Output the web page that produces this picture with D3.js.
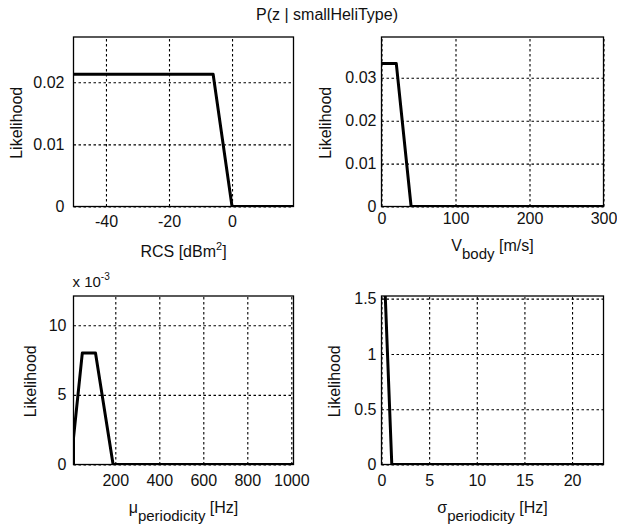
<!DOCTYPE html>
<html>
<head>
<meta charset="utf-8">
<script src="https://cdn.jsdelivr.net/npm/d3@7"></script>
<style>
  body { margin: 0; background: #fff; }
  svg { font-family: "Liberation Sans", Arial, sans-serif; }
  .tick text { fill: #111; }
</style>
</head>
<body>
<div id="chart"></div>
<script>
const titleText = "P(z | smallHeliType)";

// RCS panel
const rcsX = [-50.3, -6, 0, 19.5];
const rcsY = [0.0213, 0.0213, 0, 0];
const rcsXTicks = [-40, -20, 0];
const rcsYTicks = [0, 0.01, 0.02];
const rcsYLabels = ["0", "0.01", "0.02"];

// body velocity panel
const vbodyX = [0, 20, 40, 300];
const vbodyY = [0.0333, 0.0333, 0, 0];
const vbodyXTicks = [0, 100, 200, 300];
const vbodyYTicks = [0, 0.01, 0.02, 0.03];
const vbodyYLabels = ["0", "0.01", "0.02", "0.03"];

// mean periodicity panel
const muX = [10, 10, 50, 110, 190, 1010];
const muY = [0, 0.0019, 0.008, 0.008, 0, 0];
const muXTicks = [200, 400, 600, 800, 1000];
const muYTicks = [0, 0.005, 0.01];
const muYLabels = ["0", "5", "10"];

// std periodicity panel
const sigmaX = [0.36, 1.08, 23.3];
const sigmaY = [1.6, 0, 0];
const sigmaXTicks = [0, 5, 10, 15, 20];
const sigmaYTicks = [0, 0.5, 1, 1.5];
const sigmaYLabels = ["0", "0.5", "1", "1.5"];

const W = 617, H = 524;
const cols = [[73.5, 293.5], [381.5, 603.5]];
const rows = [[37, 206.5], [296, 464.5]];

const panels = [
  { xs: rcsX, ys: rcsY, xd: [-50.3, 19.5], yd: [0, 0.0273], xt: rcsXTicks, yt: rcsYTicks, yl: rcsYLabels,
    col: 0, row: 0, pad: 9, xpad: 9.5, ylabX: 16.5, xlabY: 50, xlab: ["RCS [dBm", "2", "]"], kind: "sup" },
  { xs: vbodyX, ys: vbodyY, xd: [0, 300], yd: [0, 0.0395], xt: vbodyXTicks, yt: vbodyYTicks, yl: vbodyYLabels,
    col: 1, row: 0, pad: 5, xpad: 6.5, ylabX: 325, xlabY: 44.5, xlab: ["V", "body", " [m/s]"], kind: "sub" },
  { xs: muX, ys: muY, xd: [10, 1010], yd: [0, 0.0121], xt: muXTicks, yt: muYTicks, yl: muYLabels,
    col: 0, row: 1, pad: 7, xpad: 10.5, ylabX: 30, xlabY: 48, xlab: ["\u03bc", "periodicity", " [Hz]"], kind: "sub", exp: true },
  { xs: sigmaX, ys: sigmaY, xd: [0, 23.3], yd: [0, 1.524], xt: sigmaXTicks, yt: sigmaYTicks, yl: sigmaYLabels,
    col: 1, row: 1, pad: 5, xpad: 10.5, ylabX: 334, xlabY: 48, xlab: ["\u03c3", "periodicity", " [Hz]"], kind: "sub" }
];

const svg = d3.select("#chart").append("svg")
  .attr("width", W)
  .attr("height", H);

svg.append("text")
  .attr("x", 327)
  .attr("y", 20)
  .attr("text-anchor", "middle")
  .attr("font-size", "16px")
  .attr("fill", "#111")
  .text(titleText);

panels.forEach(function(p, i) {
  const [x0, x1] = cols[p.col];
  const [y0, y1] = rows[p.row];
  const x = d3.scaleLinear().domain(p.xd).range([x0, x1]);
  const y = d3.scaleLinear().domain(p.yd).range([y1, y0]);
  const g = svg.append("g").attr("class", "panel");

  // grid + tick labels
  const xAxis = g.append("g")
    .attr("transform", `translate(0,${y1})`)
    .call(d3.axisBottom(x).tickValues(p.xt).tickSize(-(y1 - y0)).tickPadding(p.xpad)
      .tickFormat(d => String(d)));
  const yAxis = g.append("g")
    .attr("transform", `translate(${x0},0)`)
    .call(d3.axisLeft(y).tickValues(p.yt).tickSize(-(x1 - x0)).tickPadding(p.pad)
      .tickFormat((d, j) => p.yl[j]));
  [xAxis, yAxis].forEach(a => {
    a.select(".domain").remove();
    a.selectAll(".tick line")
      .attr("stroke", "#000")
      .attr("stroke-width", 1.1)
      .attr("stroke-dasharray", "2.5,2.5");
    a.selectAll(".tick text")
      .attr("font-size", "16px")
      .attr("font-family", "Liberation Sans, Arial, sans-serif");
  });

  // curve
  const clipId = "clip" + i;
  svg.append("clipPath").attr("id", clipId)
    .append("rect").attr("x", x0).attr("y", y0).attr("width", x1 - x0).attr("height", y1 - y0);
  const pts = p.xs.map((v, j) => [v, p.ys[j]]);
  g.append("path")
    .datum(pts)
    .attr("clip-path", `url(#${clipId})`)
    .attr("fill", "none")
    .attr("stroke", "#000")
    .attr("stroke-width", 3)
    .attr("stroke-linejoin", "round")
    .attr("d", d3.line().x(d => x(d[0])).y(d => y(d[1])));

  // box
  g.append("rect")
    .attr("x", x0).attr("y", y0)
    .attr("width", x1 - x0).attr("height", y1 - y0)
    .attr("fill", "none")
    .attr("stroke", "#000")
    .attr("stroke-width", 1.3);

  // y label
  g.append("text")
    .attr("transform", `translate(${p.ylabX},${(y0 + y1) / 2 + 1}) rotate(-90)`)
    .attr("text-anchor", "middle")
    .attr("dominant-baseline", "central")
    .attr("font-size", "16px")
    .attr("fill", "#111")
    .text("Likelihood");

  // x label
  const lab = g.append("text")
    .attr("x", (x0 + x1) / 2)
    .attr("y", y1 + p.xlabY)
    .attr("text-anchor", "middle")
    .attr("font-size", "16px")
    .attr("fill", "#111");
  lab.append("tspan").text(p.xlab[0]);
  if (p.kind === "sup") {
    lab.append("tspan").attr("dy", -7).attr("font-size", "11px").text(p.xlab[1]);
    lab.append("tspan").attr("dy", 7).text(p.xlab[2]);
  } else {
    lab.append("tspan").attr("dy", 8).attr("font-size", "15px").text(p.xlab[1]);
    lab.append("tspan").attr("dy", -8).text(p.xlab[2]);
  }

  if (p.exp) {
    const e = g.append("text")
      .attr("x", x0 - 1)
      .attr("y", y0 - 9)
      .attr("font-size", "15px")
      .attr("fill", "#111");
    e.append("tspan").text("x 10");
    e.append("tspan").attr("dy", -7).attr("font-size", "10px").text("-3");
  }
});
</script>
</body>
</html>
